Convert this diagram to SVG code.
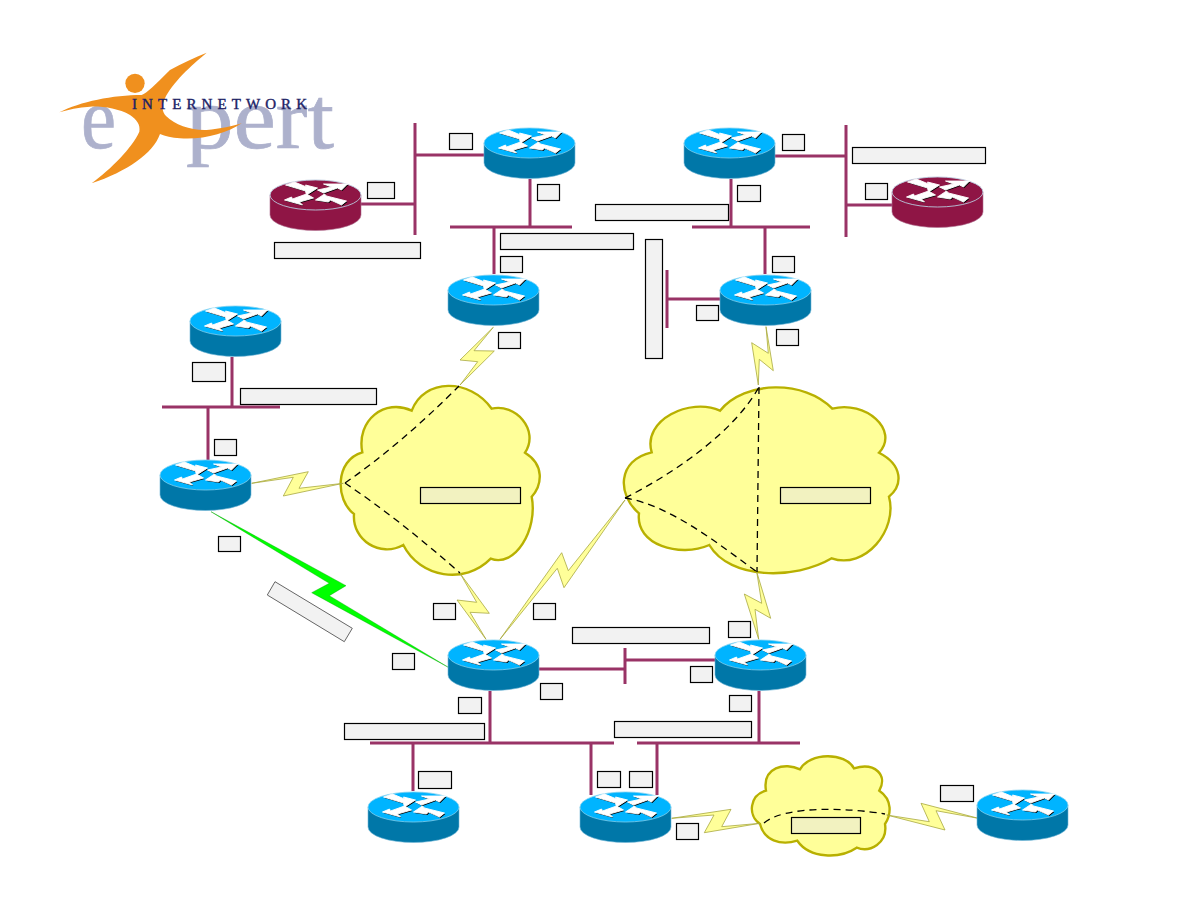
<svg xmlns="http://www.w3.org/2000/svg" width="1188" height="918" viewBox="0 0 1188 918">
<style>
.seg{stroke:#993366;stroke-width:3;fill:none}
.cloud{fill:#ffff99;stroke:#b8b000;stroke-width:2.4;stroke-linejoin:miter}
.bolt{fill:#ffff99;stroke:#a8a840;stroke-width:.8;stroke-linejoin:miter}
.green{fill:#00ff00;stroke:#00a000;stroke-width:.4}
.dash{fill:none;stroke:#000;stroke-width:1.3;stroke-dasharray:7 5}
.lab{fill:#f2f2f2;stroke:#000;stroke-width:1.2}
.lab2{fill:#f2f2c0;stroke:#000;stroke-width:1.2}
.side-b{fill:#0077a8;stroke:#6fb6d6;stroke-width:.6}
.top-b{fill:#00b4ff;stroke:#7fd0f0;stroke-width:.8}
.side-m{fill:#8f1545;stroke:#b07090;stroke-width:.6}
.top-m{fill:#8f1545;stroke:#b9c8dc;stroke-width:.9}
.logo-serif{font-family:"Liberation Serif","Times New Roman",serif;fill:#adb1cc;stroke:#adb1cc;stroke-width:.7}
</style>
<defs>
<g id="arrow-shapes">
<polygon points="-30,-10 -21,-13 -9,-8 -10,-10 2,-7 -9,0 -10,-4"/>
<polygon points="32,-11 8,-11 16,-8 2,-5 8,-2 22,-7 26,-5"/>
<polygon points="-31,5 -24,2 -23,4 -9,-1 -2,3 -16,7 -13,10"/>
<polygon points="0,5 9,-1 11,1 31,6 26,10 15,5 13,7"/>
</g>
<g id="arrows">
<use href="#arrow-shapes" fill="#000" x=".9" y=".9"/>
<use href="#arrow-shapes" fill="#fff" stroke="#fff" stroke-width=".9"/>
</g>
<g id="router">
<path class="side-b" d="M0,16 V36 A45.5,15.5 0 0 0 91,36 V16 Z"/>
<ellipse class="top-b" cx="45.5" cy="16" rx="45.5" ry="15"/>
<use href="#arrows" x="45.5" y="16"/>
</g>
<g id="router-maroon">
<path class="side-m" d="M0,16 V36 A45.5,15.5 0 0 0 91,36 V16 Z"/>
<ellipse class="top-m" cx="45.5" cy="16" rx="45.5" ry="15"/>
<use href="#arrows" x="45.5" y="16"/>
</g>
</defs>

<rect width="1188" height="918" fill="#fff"/>

<!-- company mark -->
<g id="logo">
<text class="logo-serif" x="81" y="148" font-size="88" textLength="35" lengthAdjust="spacingAndGlyphs">e</text>
<text class="logo-serif" x="186" y="148" font-size="88" textLength="148" lengthAdjust="spacingAndGlyphs">pert</text>
<g transform="translate(40,40) scale(.33333)" fill="#f0901e">
<circle cx="285" cy="130" r="29"/>
<path d="M58,217 C120,185 220,165 305,165 C320,160 345,135 390,90 C425,70 465,52 500,38 C455,75 395,130 375,175 C365,195 365,215 378,228 C405,255 455,272 500,270 C540,267 580,258 605,250 C560,280 490,300 420,295 C395,293 375,288 360,282 C340,340 260,395 155,430 C215,385 275,325 298,275 C302,255 290,238 270,225 C235,205 185,198 150,200 C115,202 85,209 58,217 Z"/>
</g>
<text x="132" y="108.5" font-family="'Liberation Serif',serif" font-size="15" fill="#1c2266" stroke="#1c2266" stroke-width=".4" textLength="175">INTERNETWORK</text>
</g>

<!-- clouds -->
<g id="cloud-left">
<path class="cloud" d="M362.3,452.3 C356,420 385,398 411.7,410.7 C424,378 470,378 491.7,408.7 C515,403 540,430 525,452.7 C545,465 542,485 531.7,496.7 C538,530 515,568 490.7,558.7 C465,585 420,578 403.3,545 C380,558 352,540 354,514 C335,500 335,460 362.3,452.3 Z"/>
</g>
<g id="cloud-right">
<path class="cloud" d="M651.7,452.3 C642,420 690,397 720,410.7 C745,380 805,380 832.3,408.7 C865,400 900,430 879,452.7 C903,465 903,485 889,496.7 C898,530 865,570 831.7,558.3 C795,580 730,580 709.3,545 C680,558 635,545 639,513.3 C617,495 617,460 651.7,452.3 Z"/>
</g>
<g id="cloud-bottom">
<path class="cloud" d="M766,790.7 C762,767 785,762 800,769.3 C810,752 845,752 854,768.3 C875,762 888,775 879.3,790.7 C893,800 891,815 885,824 C888,843 870,853 856.7,847.7 C840,859 810,859 797.3,840.7 C780,846 764,840 760,824 C747,815 750,795 766,790.7 Z"/>
</g>

<!-- connectors: ethernet segments, serial links, virtual circuits -->
<g id="connectors">
<path class="seg" d="M415,123V235M415,155H484M360,204H415"/>
<path class="seg" d="M530,179V227M450,227H572M494,227V274"/>
<path class="seg" d="M731,179V227M692,227H810M765,227V274"/>
<path class="seg" d="M775,156H846M846,125V237M846,205H892"/>
<path class="seg" d="M667,270V328M667,299H720"/>
<path class="seg" d="M232,357V407M162,407H280M208,407V460"/>
<path class="seg" d="M539,669H625M625,648V684M625,660H715"/>
<path class="seg" d="M490,691V743M370,743H614M413,743V791M591,743V795"/>
<path class="seg" d="M759,691V743M637,743H800M657,743V795"/>

<polygon class="bolt" points="493.3,327.3 460,360 477.7,361.7 460,385 494.3,351 474,350.7"/>
<polygon class="bolt" points="251.7,483.3 308.3,471.7 299,488.3 343.3,483.3 283.3,496 293.3,477.3"/>
<polygon class="bolt" points="460,573.3 489.3,613.3 470,612.3 486,639.3 457,600 476.7,602.3"/>
<polygon class="bolt" points="500,639.3 561.7,552.7 568.3,570.7 625,500 564,587.7 557.3,568.3"/>
<polygon class="bolt" points="766,326.7 773.3,370.7 759.3,359.3 758.3,385 751.7,342.7 768.3,353.3"/>
<polygon class="bolt" points="756.7,571.7 770.7,618.3 755,609.3 758.7,639.3 744.3,594 761.7,603.3"/>
<polygon class="bolt" points="671.7,818.3 731,809.3 721.7,826.7 760,823.3 704.3,832.7 714,815"/>
<polygon class="bolt" points="886.7,815 945,830 936,810.7 978.3,818.3 921,803.3 929.3,821.7"/>
<polygon class="green" points="211,511.7 346,585.7 329.3,595.7 448.3,667.3 311.7,592.7 329.3,583.3"/>

<path class="dash" d="M345,483 Q400,445 459,386"/>
<path class="dash" d="M345,483 Q400,520 460,573"/>
<path class="dash" d="M625,498 C680,470 735,430 759,387"/>
<path class="dash" d="M625,498 C670,505 720,545 757,572"/>
<path class="dash" d="M759,387 L757,572"/>
<path class="dash" d="M764,823 C785,805 850,808 885,814"/>
</g>

<!-- routers -->
<g id="r1"><use href="#router-maroon" x="270" y="179"/></g>
<g id="r2"><use href="#router" x="484" y="127"/></g>
<g id="r3"><use href="#router" x="684" y="127"/></g>
<g id="r4"><use href="#router-maroon" x="892" y="176"/></g>
<g id="r5"><use href="#router" x="448" y="274"/></g>
<g id="r6"><use href="#router" x="720" y="274"/></g>
<g id="r7"><use href="#router" x="190" y="305"/></g>
<g id="r8"><use href="#router" x="160" y="459"/></g>
<g id="r9"><use href="#router" x="448" y="639"/></g>
<g id="r10"><use href="#router" x="715" y="639"/></g>
<g id="r11"><use href="#router" x="368" y="791"/></g>
<g id="r12"><use href="#router" x="580" y="791"/></g>
<g id="r13"><use href="#router" x="977" y="789"/></g>

<!-- address plates -->
<g id="plates">
<rect class="lab" x="449.5" y="133.5" width="23" height="16"/>
<rect class="lab" x="367.5" y="182.5" width="27" height="16"/>
<rect class="lab" x="537.5" y="184.5" width="22" height="16"/>
<rect class="lab" x="782.5" y="134.5" width="22" height="16"/>
<rect class="lab" x="737.5" y="185.5" width="23" height="16"/>
<rect class="lab" x="865.5" y="183.5" width="22" height="16"/>
<rect class="lab" x="852.5" y="147.5" width="133" height="16"/>
<rect class="lab" x="595.5" y="204.5" width="133" height="16"/>
<rect class="lab" x="500.5" y="233.5" width="133" height="16"/>
<rect class="lab" x="274.5" y="242.5" width="146" height="16"/>
<rect class="lab" x="500.5" y="256.5" width="22" height="16"/>
<rect class="lab" x="498.5" y="332.5" width="22" height="16"/>
<rect class="lab" x="772.5" y="256.5" width="22" height="16"/>
<rect class="lab" x="696.5" y="305.5" width="22" height="15"/>
<rect class="lab" x="776.5" y="329.5" width="22" height="16"/>
<rect class="lab" x="645.5" y="239.5" width="17" height="119"/>
<rect class="lab" x="192.5" y="362.5" width="33" height="19"/>
<rect class="lab" x="240.5" y="388.5" width="136" height="16"/>
<rect class="lab" x="214.5" y="439.5" width="22" height="16"/>
<rect class="lab2" x="420.5" y="487.5" width="100" height="16"/>
<rect class="lab2" x="780.5" y="487.5" width="90" height="16"/>
<rect class="lab" x="218.5" y="536.5" width="22" height="15"/>
<rect class="lab" x="433.5" y="603.5" width="22" height="16"/>
<rect class="lab" x="533.5" y="603.5" width="22" height="16"/>
<rect class="lab" x="572.5" y="627.5" width="137" height="16"/>
<rect class="lab" x="728.5" y="621.5" width="22" height="16"/>
<rect class="lab" x="392.5" y="653.5" width="22" height="16"/>
<rect class="lab" x="690.5" y="666.5" width="22" height="16"/>
<rect class="lab" x="540.5" y="683.5" width="22" height="16"/>
<rect class="lab" x="458.5" y="697.5" width="23" height="16"/>
<rect class="lab" x="729.5" y="695.5" width="22" height="16"/>
<rect class="lab" x="344.5" y="723.5" width="140" height="16"/>
<rect class="lab" x="614.5" y="721.5" width="137" height="16"/>
<rect class="lab" x="418.5" y="771.5" width="33" height="17"/>
<rect class="lab" x="597.5" y="771.5" width="23" height="16"/>
<rect class="lab" x="629.5" y="771.5" width="23" height="16"/>
<rect class="lab" x="940.5" y="785.5" width="33" height="16"/>
<rect class="lab" x="676.5" y="823.5" width="22" height="16"/>
<rect class="lab2" x="791.5" y="817.5" width="69" height="16"/>
<polygon points="275,581.7 352.3,628.3 344.3,641.7 267.3,595" fill="#f2f2f2" stroke="#666" stroke-width="1"/>
</g>
</svg>
